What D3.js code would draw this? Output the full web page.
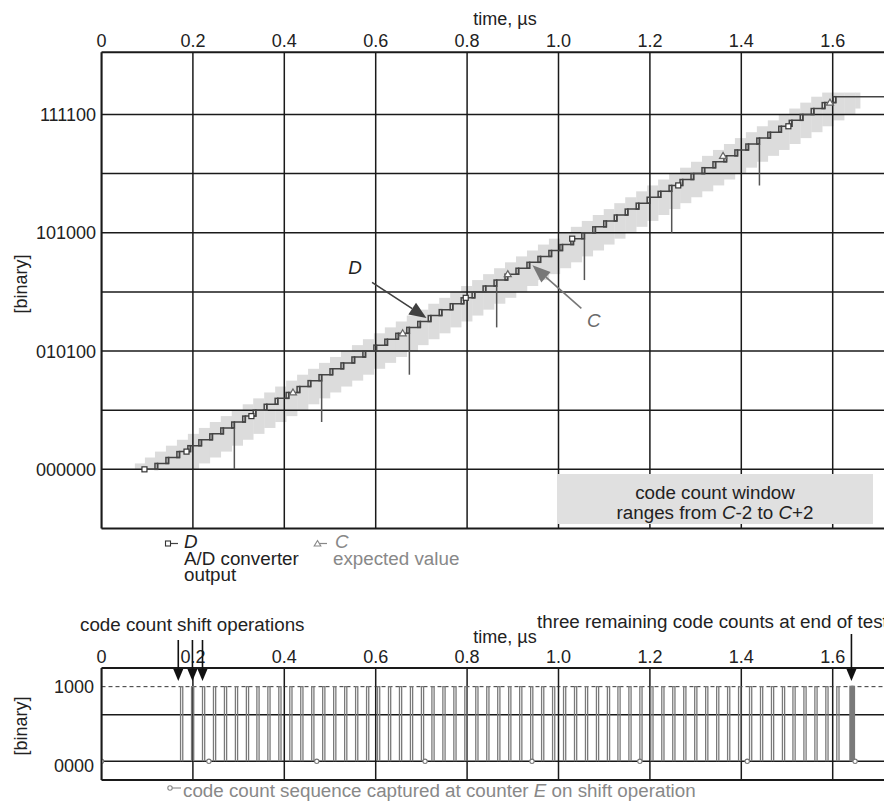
<!DOCTYPE html>
<html><head><meta charset="utf-8">
<script src="https://cdn.jsdelivr.net/npm/d3@7"></script>
<style>
body{margin:0;background:#fff}
svg{display:block}
text{font-family:"Liberation Sans",Arial,Helvetica,sans-serif;font-size:18.8px;fill:#222}
text.tick{font-size:18px}
</style>
</head><body>
<svg id="c" width="884" height="803"></svg>
<script>
// ---------- data ----------
const timeTicks = [0, 0.2, 0.4, 0.6, 0.8, 1.0, 1.2, 1.4, 1.6];
const timeTickLabels = ["0", "0.2", "0.4", "0.6", "0.8", "1.0", "1.2", "1.4", "1.6"];
const codeGrid = [0, 10, 20, 30, 40, 50, 60];
const codeTicks = [0, 20, 40, 60];
const codeTickLabels = ["000000", "010100", "101000", "111100"];

// time (µs) at which the A/D output D reaches each code
const stepTimes = [0.095,0.117,0.141,0.165,0.189,0.213,0.237,0.261,0.285,0.309,
  0.332,0.356,0.380,0.404,0.428,0.452,0.476,0.500,0.524,0.548,
  0.572,0.596,0.620,0.644,0.668,0.692,0.715,0.739,0.763,0.787,
  0.811,0.835,0.859,0.883,0.907,0.931,0.955,0.979,1.003,1.027,
  1.051,1.075,1.099,1.122,1.146,1.170,1.194,1.218,1.242,1.266,
  1.290,1.314,1.338,1.362,1.386,1.410,1.434,1.458,1.482,1.505,
  1.529,1.553,1.577,1.601];
const stepCodes = [0,1,2,3,4,5,6,7,8,9,10,11,12,13,14,15,16,17,18,19,20,21,22,23,24,25,26,27,28,29,
  30,31,32,33,34,35,36,37,38,39,40,41,42,43,44,45,46,47,48,49,50,51,52,53,54,55,56,57,58,59,60,61,62,63];
const endTime = 1.72;
// expected value C: one code before D starts, two codes beyond the end
const preTimes = [0.073], preCodes = [-1];
const postTimes = [1.625, 1.649], postCodes = [64, 65];
const bandEnd = 1.66;
// glitches at major code transitions
const dropCodes = [8, 16, 24, 32, 40, 48, 56];
const dropLows  = [0, 8, 16, 24, 32, 40, 48];
// markers
const dMarkerTimes = [0.094, 0.186, 0.328, 0.797, 1.030, 1.262, 1.503];
const dMarkerCodes = [0, 3, 9, 29, 39, 48, 58];
const cMarkerTimes = [0.419, 0.659, 0.889, 1.360, 1.594];
const cMarkerCodes = [13, 23, 33, 53, 62];
// window C-2..C+2
const windowBelow = 4, windowAbove = 2;
const codeMin = 0, codeMax = 63.7;

// bottom chart
const pulseTimes = [0.173,0.197,0.221,0.245,0.269,0.293,0.317,0.340,0.364,0.388,
  0.412,0.436,0.460,0.484,0.508,0.532,0.556,0.580,0.604,0.628,
  0.652,0.676,0.700,0.723,0.747,0.771,0.795,0.819,0.843,0.867,
  0.891,0.915,0.939,0.963,0.987,1.011,1.035,1.059,1.083,1.107,
  1.130,1.154,1.178,1.202,1.226,1.250,1.274,1.298,1.322,1.346,
  1.370,1.394,1.418,1.442,1.466,1.490,1.513,1.537,1.561,1.585,1.609];
const finalPulseTimes = [1.638, 1.641, 1.644];
const captureTimes = [0, 0.235, 0.471, 0.708, 0.942, 1.178, 1.413, 1.649];
const countHigh = 8, countLow = 0, countMid = 5;
const countTickLabels = ["1000", "0000"];
const shiftArrowTimes = [0.168, 0.199, 0.221];
const endArrowTime = 1.641;

// ---------- drawing ----------
(function () {
const svg = d3.select("#c");
const X0 = 101.5, PXUS = 457;
const x = d3.scaleLinear().domain([0, 1.8]).range([X0, X0 + 1.8 * PXUS]);
const y = d3.scaleLinear().domain([-10, 70.5]).range([528.5, 528.5 - 80.5 * 5.915]);
const yb = d3.scaleLinear().domain([-2, 10]).range([780, 668]);

const defs = svg.append("defs");
defs.append("clipPath").attr("id", "clipTop").append("rect")
  .attr("x", X0).attr("y", y(70.5)).attr("width", 884 - X0).attr("height", y(-10) - y(70.5));
defs.append("clipPath").attr("id", "clipBot").append("rect")
  .attr("x", X0).attr("y", yb(10)).attr("width", 884 - X0).attr("height", yb(-2) - yb(10));

function arrowHead(g, x1, y1, x2, y2, len, wid, color) {
  const a = Math.atan2(y2 - y1, x2 - x1);
  const bx = x2 - len * Math.cos(a), by = y2 - len * Math.sin(a);
  const px = -Math.sin(a) * wid / 2, py = Math.cos(a) * wid / 2;
  g.append("path").attr("d", `M${x2},${y2}L${bx + px},${by + py}L${bx - px},${by - py}Z`).attr("fill", color);
  g.append("line").attr("x1", x1).attr("y1", y1).attr("x2", bx).attr("y2", by)
    .attr("stroke", color).attr("stroke-width", 1.6);
}

// ===== TOP CHART =====
const topG = svg.append("g");
const topPlot = topG.append("g").attr("clip-path", "url(#clipTop)");

// window band (expected value C with window)
const cT = preTimes.concat(stepTimes, postTimes);
const cC = preCodes.concat(stepCodes, postCodes);
const band = topPlot.append("g").attr("fill", "#dcdcdc");
cT.forEach((t, i) => {
  const tn = i < cT.length - 1 ? cT[i + 1] : bandEnd;
  const lo = Math.max(codeMin, cC[i] - windowBelow), hi = Math.min(codeMax, cC[i] + windowAbove);
  band.append("rect").attr("x", x(t)).attr("width", x(tn) - x(t) + 0.3)
    .attr("y", y(hi)).attr("height", y(lo) - y(hi));
});

// grid
const grid = topPlot.append("g").attr("stroke", "#1a1a1a").attr("stroke-width", 1.5);
codeGrid.forEach(c => grid.append("line").attr("x1", X0).attr("x2", 884).attr("y1", y(c)).attr("y2", y(c)));
timeTicks.forEach(t => grid.append("line").attr("x1", x(t)).attr("x2", x(t)).attr("y1", y(70.5)).attr("y2", y(-10)));

// code count window legend box
const box = topG.append("g");
box.append("rect").attr("x", 557).attr("y", 474).attr("width", 316).attr("height", 50).attr("fill", "#e0e0e0");
box.append("text").attr("x", 715).attr("y", 498.5).attr("text-anchor", "middle").text("code count window");
const tx2 = box.append("text").attr("x", 715).attr("y", 519).attr("text-anchor", "middle");
tx2.append("tspan").text("ranges from ");
tx2.append("tspan").attr("font-style", "italic").text("C");
tx2.append("tspan").text("-2 to ");
tx2.append("tspan").attr("font-style", "italic").text("C");
tx2.append("tspan").text("+2");

// D staircase
const G = 0.0057; // glitch width
let d = `M${x(stepTimes[0])},${y(stepCodes[0])}`;
const boxes = [];
for (let i = 1; i < stepTimes.length; i++) {
  const tk = stepTimes[i], c = stepCodes[i], cp = stepCodes[i - 1];
  d += `H${x(tk + G)}V${y(c)}`;
  boxes.push([tk, cp, c]);
}
d += `H${x(endTime)}`;
const dG = topPlot.append("g").attr("stroke", "#444").attr("fill", "none").attr("stroke-width", 1.5);
dG.append("path").attr("d", d);
boxes.forEach(([tk, cp, c]) => {
  dG.append("rect").attr("x", x(tk)).attr("width", x(tk + G) - x(tk))
    .attr("y", y(c)).attr("height", y(cp) - y(c));
});
dropCodes.forEach((c, i) => {
  const t = stepTimes[stepCodes.indexOf(c)];
  dG.append("line").attr("x1", x(t + G)).attr("x2", x(t + G)).attr("y1", y(c - 1)).attr("y2", y(dropLows[i]))
    .attr("stroke", "#555");
});

// markers
dMarkerTimes.forEach((t, i) => {
  topPlot.append("rect").attr("x", x(t) - 2.5).attr("y", y(dMarkerCodes[i]) - 2.5).attr("width", 5).attr("height", 5)
    .attr("fill", "#fff").attr("stroke", "#333").attr("stroke-width", 1.2);
});
cMarkerTimes.forEach((t, i) => {
  const cx = x(t), cy = y(cMarkerCodes[i]);
  topPlot.append("path").attr("d", `M${cx},${cy - 3.5}L${cx + 3.5},${cy + 2.5}L${cx - 3.5},${cy + 2.5}Z`)
    .attr("fill", "#fff").attr("stroke", "#666").attr("stroke-width", 1.2);
});

// frame
topG.append("line").attr("x1", X0).attr("x2", 884).attr("y1", y(70.5)).attr("y2", y(70.5)).attr("stroke", "#1a1a1a").attr("stroke-width", 2);
topG.append("line").attr("x1", X0).attr("x2", 884).attr("y1", y(-10)).attr("y2", y(-10)).attr("stroke", "#1a1a1a").attr("stroke-width", 2);
topG.append("line").attr("x1", X0).attr("x2", X0).attr("y1", y(70.5)).attr("y2", y(-10)).attr("stroke", "#1a1a1a").attr("stroke-width", 2);

// axes labels
timeTicks.forEach((t, i) => topG.append("text").attr("class", "tick").attr("x", x(t)).attr("y", 47).attr("text-anchor", "middle").text(timeTickLabels[i]));
topG.append("text").attr("class", "tick").attr("x", 505).attr("y", 25).attr("text-anchor", "middle").text("time, µs");
codeTicks.forEach((c, i) => topG.append("text").attr("class", "tick").attr("x", 96).attr("y", y(c) + 6.5).attr("text-anchor", "end").text(codeTickLabels[i]));
topG.append("text").attr("class", "tick").attr("transform", "translate(27,284) rotate(-90)").attr("text-anchor", "middle").text("[binary]");

// D / C annotations
const ann = topG.append("g");
arrowHead(ann, x(0.592), y(31.6), x(0.711), y(25.6), 17, 14, "#3f3f3f");
ann.append("text").attr("x", x(0.555)).attr("y", y(33.0)).attr("text-anchor", "middle").attr("font-style", "italic").text("D");
arrowHead(ann, x(1.05), y(27.2), x(0.943), y(34.5), 18, 14, "#777");
ann.append("text").attr("x", x(1.077)).attr("y", y(24.1)).attr("text-anchor", "middle").attr("font-style", "italic").attr("style", "fill:#6a6a6a").text("C");

// legend below top chart
const leg = topG.append("g");
leg.append("line").attr("x1", 168).attr("x2", 178).attr("y1", 543.5).attr("y2", 543.5).attr("stroke", "#444").attr("stroke-width", 1.2);
leg.append("rect").attr("x", 165.5).attr("y", 541).attr("width", 5).attr("height", 5).attr("fill", "#fff").attr("stroke", "#333").attr("stroke-width", 1.1);
leg.append("text").attr("x", 184).attr("y", 548).attr("font-style", "italic").text("D");
leg.append("text").attr("x", 184).attr("y", 565).text("A/D converter");
leg.append("text").attr("x", 184).attr("y", 581).text("output");
leg.append("line").attr("x1", 318).attr("x2", 327).attr("y1", 543.5).attr("y2", 543.5).attr("stroke", "#888").attr("stroke-width", 1.2);
leg.append("path").attr("d", "M317.5,540.5L320.8,546L314.2,546Z").attr("fill", "#fff").attr("stroke", "#888").attr("stroke-width", 1.1);
leg.append("text").attr("x", 335).attr("y", 548).attr("font-style", "italic").attr("style", "fill:#888").text("C");
leg.append("text").attr("x", 333).attr("y", 565).attr("style", "fill:#888").text("expected value");

// ===== BOTTOM CHART =====
const botG = svg.append("g");
const botPlot = botG.append("g").attr("clip-path", "url(#clipBot)");
const bgrid = botPlot.append("g").attr("stroke", "#1a1a1a").attr("stroke-width", 1.5);
timeTicks.forEach(t => bgrid.append("line").attr("x1", x(t)).attr("x2", x(t)).attr("y1", yb(10)).attr("y2", yb(-2)));
bgrid.append("line").attr("x1", X0).attr("x2", 884).attr("y1", yb(countMid)).attr("y2", yb(countMid));
bgrid.append("line").attr("x1", X0).attr("x2", 884).attr("y1", yb(countLow)).attr("y2", yb(countLow));
botPlot.append("line").attr("x1", X0).attr("x2", 884).attr("y1", yb(countHigh)).attr("y2", yb(countHigh))
  .attr("stroke", "#333").attr("stroke-width", 1).attr("stroke-dasharray", "4,3");

const pg = botPlot.append("g").attr("stroke", "#7a7a7a").attr("fill", "none").attr("stroke-width", 1.3);
pulseTimes.forEach(t => {
  pg.append("path").attr("d", `M${x(t)},${yb(countLow)}V${yb(countHigh)}H${x(t) + 2.2}V${yb(countLow)}`);
});
finalPulseTimes.forEach(t => {
  pg.append("path").attr("d", `M${x(t)},${yb(countLow)}V${yb(countHigh)}H${x(t) + 1.5}V${yb(countLow)}`).attr("stroke-width", 1.6);
});
captureTimes.forEach(t => {
  botPlot.append("circle").attr("cx", x(t)).attr("cy", yb(countLow)).attr("r", 2.2)
    .attr("fill", "#fff").attr("stroke", "#777").attr("stroke-width", 1.1);
});
botG.append("line").attr("x1", X0).attr("x2", 884).attr("y1", yb(10)).attr("y2", yb(10)).attr("stroke", "#1a1a1a").attr("stroke-width", 2);
botG.append("line").attr("x1", X0).attr("x2", 884).attr("y1", yb(-2)).attr("y2", yb(-2)).attr("stroke", "#1a1a1a").attr("stroke-width", 2);
botG.append("line").attr("x1", X0).attr("x2", X0).attr("y1", yb(10)).attr("y2", yb(-2)).attr("stroke", "#1a1a1a").attr("stroke-width", 2);

timeTicks.forEach((t, i) => botG.append("text").attr("class", "tick").attr("x", x(t)).attr("y", 663).attr("text-anchor", "middle").text(timeTickLabels[i]));
botG.append("text").attr("class", "tick").attr("x", 505).attr("y", 643).attr("text-anchor", "middle").text("time, µs");
botG.append("text").attr("class", "tick").attr("x", 94).attr("y", 693).attr("text-anchor", "end").text(countTickLabels[0]);
botG.append("text").attr("class", "tick").attr("x", 94).attr("y", 772).attr("text-anchor", "end").text(countTickLabels[1]);
botG.append("text").attr("class", "tick").attr("transform", "translate(27,726) rotate(-90)").attr("text-anchor", "middle").text("[binary]");
botG.append("text").attr("x", 80).attr("y", 631).text("code count shift operations");
botG.append("text").attr("x", 537).attr("y", 628).text("three remaining code counts at end of test");

const ar = botG.append("g");
shiftArrowTimes.forEach(t => arrowHead(ar, x(t), 640, x(t), 681, 12, 10, "#111"));
arrowHead(ar, x(endArrowTime), 634, x(endArrowTime), 681, 12, 10, "#111");

// caption
botG.append("line").attr("x1", 170).attr("x2", 181).attr("y1", 788).attr("y2", 788).attr("stroke", "#888").attr("stroke-width", 1.1);
botG.append("circle").attr("cx", 170).attr("cy", 788).attr("r", 2.2).attr("fill", "#fff").attr("stroke", "#888").attr("stroke-width", 1.1);
const cap = botG.append("text").attr("x", 183).attr("y", 797).attr("style", "fill:#888");
cap.append("tspan").text("code count sequence captured at counter ");
cap.append("tspan").attr("font-style", "italic").text("E");
cap.append("tspan").text(" on shift operation");
})();
</script>
</body></html>
